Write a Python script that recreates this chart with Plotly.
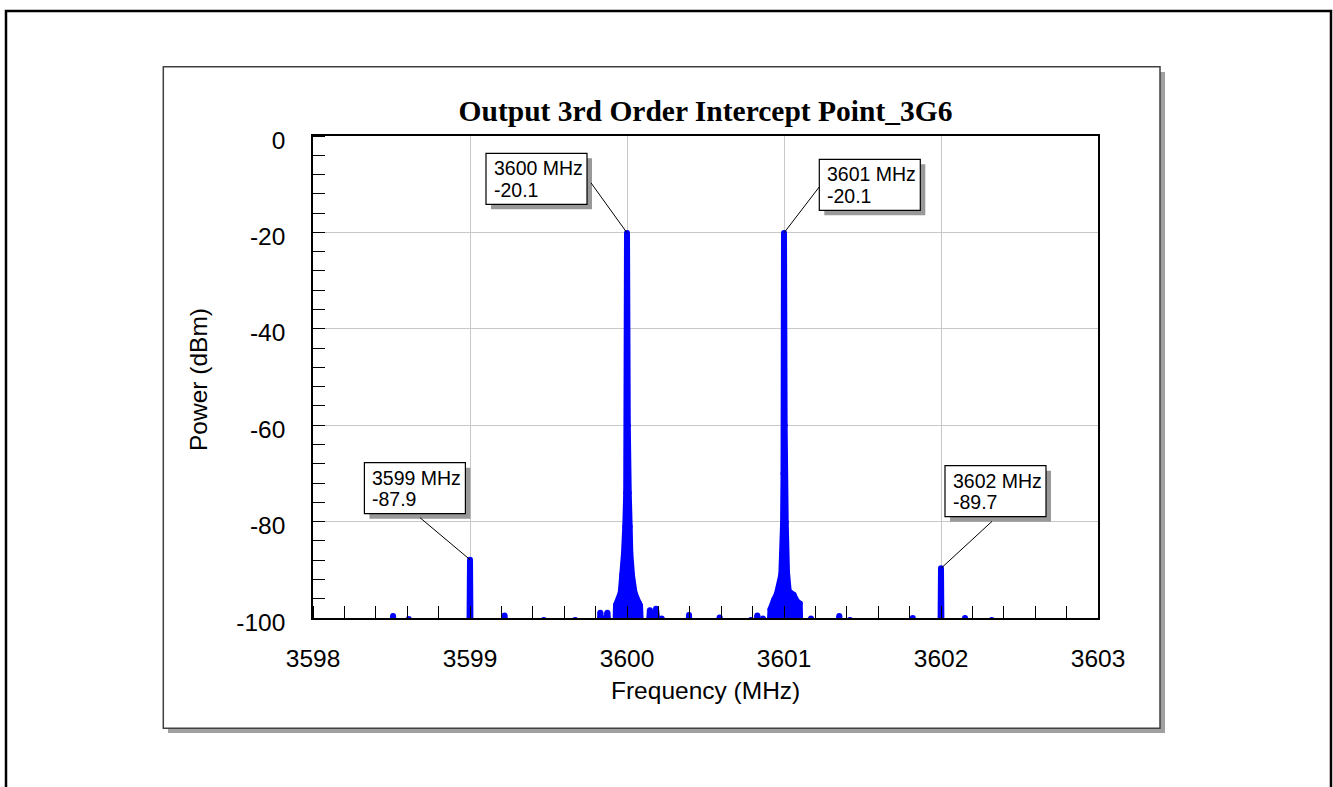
import plotly.graph_objects as go

# Measured spectrum: frequency (MHz) and power (dBm).
# Samples at -110 dBm / -104 dBm sit on the noise floor, below the visible range.
FREQ_MHZ = [
    3598.000,
    3598.495, 3598.510, 3598.525,
    3598.595, 3598.610, 3598.625,
    3598.995, 3599.000, 3599.005,
    3599.205, 3599.220, 3599.235,
    3599.455, 3599.470, 3599.485,
    3599.655, 3599.670, 3599.685,
    3599.815, 3599.830, 3599.850, 3599.875, 3599.895,
    3599.925, 3599.930, 3599.960, 3599.970, 3599.981, 3599.989, 3599.995, 3600.000,
    3600.005, 3600.011, 3600.017, 3600.021, 3600.032, 3600.048, 3600.075, 3600.083, 3600.092,
    3600.132, 3600.146, 3600.165, 3600.185, 3600.205, 3600.221, 3600.240,
    3600.380, 3600.395, 3600.410,
    3600.575, 3600.590, 3600.605,
    3600.775, 3600.790, 3600.815, 3600.830, 3600.848, 3600.866, 3600.885,
    3600.905, 3600.914, 3600.936, 3600.955, 3600.983, 3600.994, 3600.997, 3601.000,
    3601.004, 3601.011, 3601.019, 3601.030, 3601.061, 3601.083, 3601.100, 3601.106,
    3601.155, 3601.172, 3601.190,
    3601.335, 3601.352, 3601.370,
    3601.405, 3601.420, 3601.435,
    3601.805, 3601.820, 3601.835,
    3601.995, 3602.000, 3602.005,
    3602.138, 3602.153, 3602.168,
    3602.308, 3602.323, 3602.338,
    3603.000,
]
POWER_DBM = [
    -110,
    -110, -99.6, -110,
    -110, -100.2, -110,
    -110, -87.9, -110,
    -110, -99.5, -110,
    -110, -100.4, -110,
    -110, -100.4, -110,
    -110, -98.9, -104, -98.9, -106,
    -104, -97.3, -94.8, -91.0, -86.5, -81.0, -74.0, -20.1,
    -60.0, -74.0, -81.0, -86.5, -91.2, -94.8, -96.9, -97.4, -104,
    -104, -98.4, -103, -98.1, -104, -100.1, -110,
    -110, -99.4, -110,
    -110, -99.9, -110,
    -110, -100.4, -106, -99.5, -104, -100.1, -104,
    -104, -98.2, -96.3, -95.0, -91.0, -80.5, -70.0, -20.1,
    -60.0, -80.2, -90.5, -94.4, -95.2, -96.6, -97.0, -104,
    -110, -100.1, -110,
    -110, -99.6, -110,
    -110, -100.4, -110,
    -110, -100.0, -110,
    -110, -89.7, -110,
    -110, -100.0, -110,
    -110, -100.4, -110,
    -110,
]

# Marker readouts (frequency in MHz, power in dBm)
MARKER_FREQ = [3599, 3600, 3601, 3602]
MARKER_POWER = [-87.9, -20.1, -20.1, -89.7]

X_TICKS = [3598, 3599, 3600, 3601, 3602, 3603]
Y_TICKS = [0, -20, -40, -60, -80, -100]
Y_TICK_TEXT = ["0", "-20", "-40", "-60", "-80", "-100"]

TITLE = "Output 3rd Order Intercept Point_3G6"
X_TITLE = "Frequency (MHz)"
Y_TITLE = "Power (dBm)"

# ---- styling / layout constants ----
W, H = 1333, 787
PLOT_L, PLOT_T, PLOT_R, PLOT_B = 313, 136, 1098, 618
BLUE = "#0000ff"
SANS = "Liberation Sans, Arial, sans-serif"
SERIF = "Liberation Serif, Times New Roman, serif"
FILL_BASE = -130  # fill the trace down to well below the axis floor

# readout boxes: (left, top) offset from the marked point, and where the leader starts (screen px)
BOX_W, BOX_H = 101, 51
BOX_OFFSETS = [(-105.6, -97.0), (-141.0, -79.6), (35.3, -73.6), (4.0, -102.7)]
LEADER_START = [(-50.0, -42.0), (-36.0, -50.0), (35.3, -46.0), (51.0, -47.0)]


def paper_x(px):
    return (px - PLOT_L) / (PLOT_R - PLOT_L)


def paper_y(py):
    return (PLOT_B - py) / (PLOT_B - PLOT_T)


fig = go.Figure()

# invisible floor used as the lower edge of the spectrum fill
fig.add_trace(go.Scatter(
    x=[X_TICKS[0], X_TICKS[-1]], y=[FILL_BASE, FILL_BASE],
    mode="lines", line=dict(width=0, color=BLUE),
    hoverinfo="skip", showlegend=False,
))
fig.add_trace(go.Scatter(
    x=FREQ_MHZ, y=POWER_DBM,
    mode="lines+markers", fill="tonexty", fillcolor=BLUE,
    line=dict(color=BLUE, width=6, simplify=False),
    marker=dict(size=6, color=BLUE),
    showlegend=False,
))

shapes = [
    # page border
    dict(type="rect", xref="paper", yref="paper",
         x0=paper_x(6), x1=paper_x(1331), y0=paper_y(11), y1=paper_y(820),
         line=dict(color="black", width=2.5), fillcolor="rgba(0,0,0,0)", layer="below"),
    # chart frame shadow + frame
    dict(type="rect", xref="paper", yref="paper",
         x0=paper_x(168), x1=paper_x(1165), y0=paper_y(72), y1=paper_y(733),
         line=dict(width=0), fillcolor="#a0a0a0", layer="below"),
    dict(type="rect", xref="paper", yref="paper",
         x0=paper_x(163.3), x1=paper_x(1160), y0=paper_y(66.7), y1=paper_y(728.3),
         line=dict(color="#404040", width=1.5), fillcolor="white", layer="below"),
]

annotations = []
for f, p, (bx, by), (lx, ly) in zip(MARKER_FREQ, MARKER_POWER, BOX_OFFSETS, LEADER_START):
    common = dict(xref="x", yref="y", xsizemode="pixel", ysizemode="pixel",
                  xanchor=f, yanchor=p, layer="above")
    # box shadow
    shapes.append(dict(type="rect", x0=bx + 5, x1=bx + BOX_W + 5,
                       y0=-(by + 5), y1=-(by + BOX_H + 5),
                       fillcolor="#999999", line=dict(width=0), **common))
    # box
    shapes.append(dict(type="rect", x0=bx, x1=bx + BOX_W,
                       y0=-by, y1=-(by + BOX_H),
                       fillcolor="white", line=dict(color="black", width=1.2), **common))
    # leader line to the marked point
    shapes.append(dict(type="line", x0=lx, x1=0, y0=-ly, y1=0,
                       line=dict(color="black", width=1), **common))
    for text, dy in ((f"{f} MHz", 15.0), (f"{p}", 36.5)):
        annotations.append(dict(
            xref="x", yref="y", x=f, y=p, text=text, showarrow=False,
            xanchor="left", yanchor="middle",
            xshift=bx + 5.5, yshift=-(by + dy),
            font=dict(family=SANS, size=19.5, color="black"),
        ))

# axis titles
annotations.append(dict(
    xref="paper", yref="paper", x=0.5, y=paper_y(690), text=X_TITLE,
    showarrow=False, xanchor="center", yanchor="middle",
    font=dict(family=SANS, size=24.5, color="black"),
))
annotations.append(dict(
    xref="paper", yref="paper", x=paper_x(198), y=paper_y(380), text=Y_TITLE,
    showarrow=False, xanchor="center", yanchor="middle", textangle=-90,
    font=dict(family=SANS, size=24.5, color="black"),
))

axis_common = dict(
    showgrid=True, gridcolor="#c8c8c8", gridwidth=1,
    showline=True, linecolor="black", linewidth=1.5, mirror=True,
    zeroline=False, ticks="",
    tickfont=dict(family=SANS, size=24.5, color="black"),
)

fig.update_xaxes(
    range=[X_TICKS[0], X_TICKS[-1]],
    tickmode="array", tickvals=X_TICKS, ticktext=[str(v) for v in X_TICKS],
    ticklabelstandoff=18,
    minor=dict(tickmode="linear", tick0=X_TICKS[0], dtick=0.2, ticks="inside",
               ticklen=12, tickcolor="black", tickwidth=1, showgrid=False),
    **axis_common,
)
fig.update_yaxes(
    range=[Y_TICKS[-1], Y_TICKS[0]],
    tickmode="array", tickvals=Y_TICKS, ticktext=Y_TICK_TEXT,
    ticklabelstandoff=21, ticklabelshift=4,
    minor=dict(tickmode="linear", tick0=0, dtick=4, ticks="inside",
               ticklen=12, tickcolor="black", tickwidth=1, showgrid=False),
    **axis_common,
)

fig.update_layout(
    width=W, height=H,
    margin=dict(l=PLOT_L, r=W - PLOT_R, t=PLOT_T, b=H - PLOT_B, pad=0),
    paper_bgcolor="white", plot_bgcolor="white",
    title=dict(text=f"<b>{TITLE}</b>", x=0.5, xref="paper", xanchor="center",
               y=1 - 111 / H, yref="container", yanchor="middle",
               font=dict(family=SERIF, size=29.5, color="black")),
    shapes=shapes, annotations=annotations,
    showlegend=False, hovermode=False,
)

fig.write_html("out.html", config={"displayModeBar": False})
